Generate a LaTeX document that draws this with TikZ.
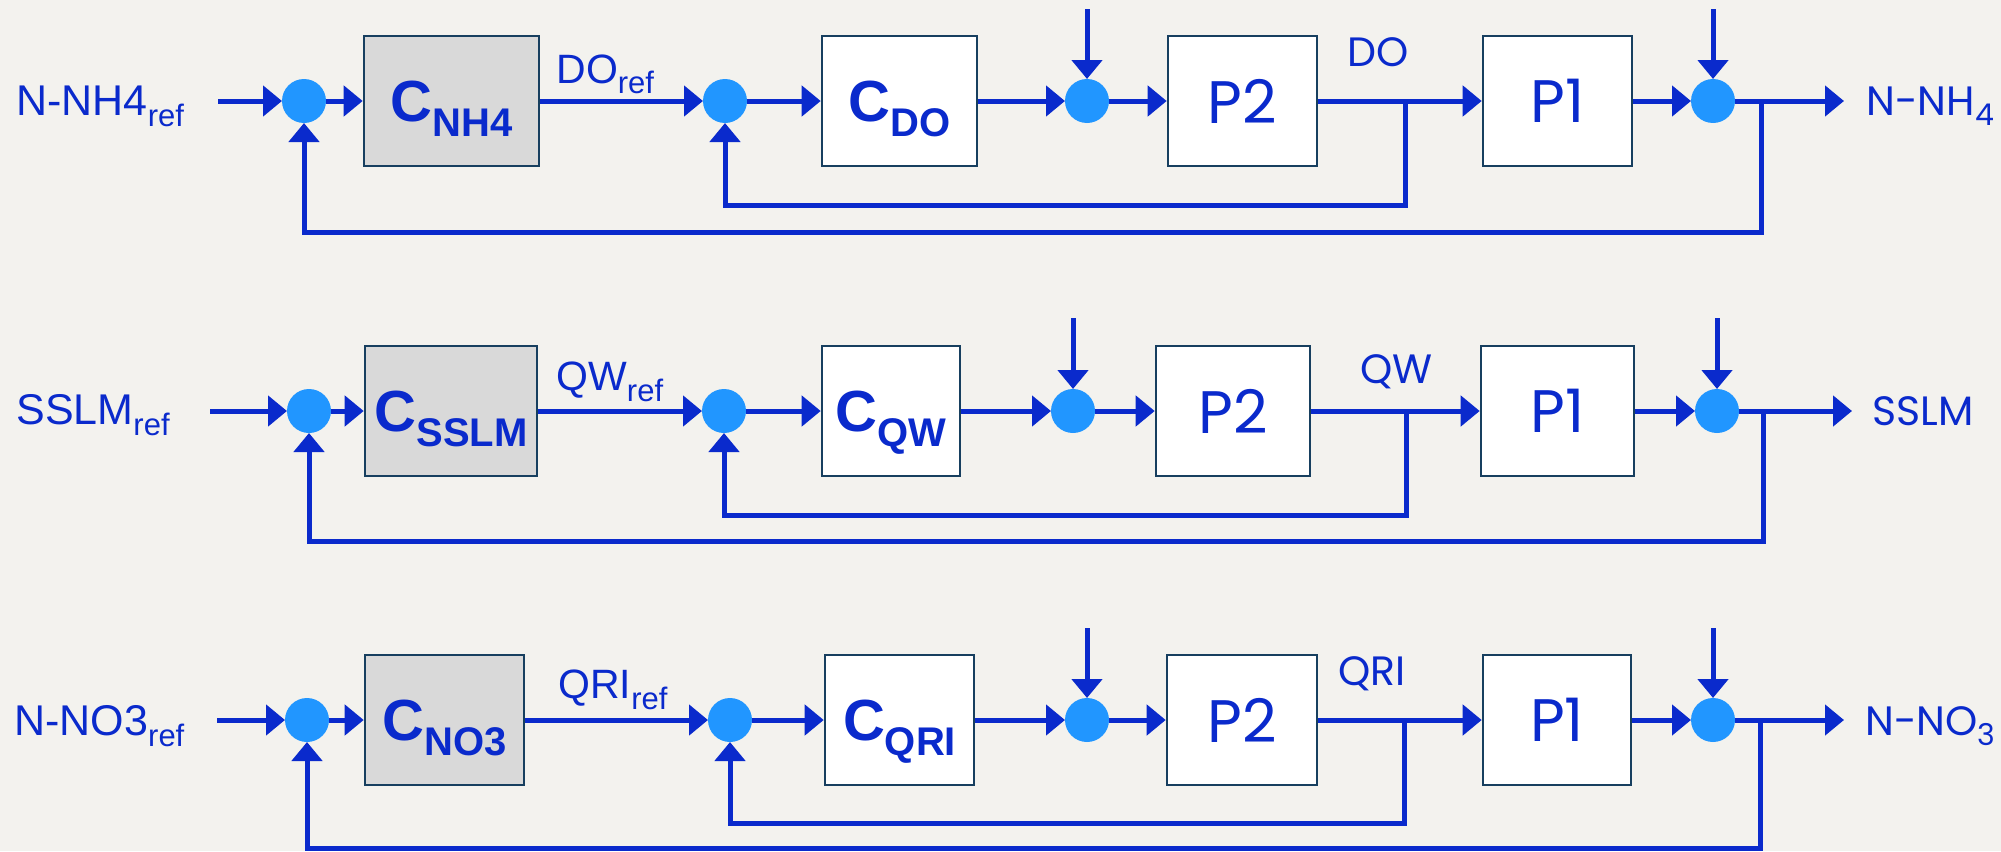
\documentclass[tikz,border=0pt]{standalone}
\usepackage{fontspec}
\setmainfont{Liberation Sans}
\newfontfamily\poppins{Poppins}
\usetikzlibrary{arrows.meta}
\definecolor{bgcol}{HTML}{F3F2EE}
\definecolor{linecol}{HTML}{0A2ACC}
\definecolor{sumcol}{HTML}{2196FF}
\definecolor{edgecol}{HTML}{173F5F}
\definecolor{ctrlcol}{HTML}{D9D9D9}
\newcommand{\csub}[1]{\raisebox{-7.5pt}{\fontsize{20}{22}\selectfont #1}}
\newcommand{\rsub}[1]{\raisebox{-5.5pt}{\fontsize{15.5}{17}\selectfont #1}}
\newcommand{\osub}[1]{\raisebox{-5pt}{\fontsize{15}{17}\selectfont #1}}
\tikzset{
  ctrl/.style={draw=edgecol,fill=ctrlcol,line width=1.3pt,minimum height=65pt,inner sep=0pt,text depth=0pt,text=linecol,font=\bfseries\fontsize{29}{30}\selectfont},
  plant/.style={ctrl,fill=white,font=\poppins\fontsize{30}{32}\selectfont},
  sumpt/.style={circle,fill=sumcol,minimum size=22pt,inner sep=0pt,outer sep=0pt},
  sig/.style={draw=linecol,line width=2.5pt,-{Triangle[length=9.5pt,width=15pt]}},
  reflbl/.style={anchor=base west,inner sep=0pt,text=linecol,font=\fontsize{21.5}{24}\selectfont},
  outlbl/.style={anchor=base west,inner sep=0pt,text=linecol,font=\poppins\fontsize{20.5}{24}\selectfont}
}
\begin{document}
\begin{tikzpicture}[x=0.5pt,y=-0.5pt]
	\fill[bgcol] (0,0) rectangle (2001,851);
	\useasboundingbox (0,0) rectangle (2001,851);

	\node[reflbl] (in1) at (16,115) {N-NH4\rsub{ref}};
	\coordinate (a1) at (218,101);
	\node[sumpt] (s11) at (304,101) {};
	\node[ctrl,minimum width=87.5pt] (c11) at (451.5,101) {C\csub{NH4}};
	\node[reflbl,font=\fontsize{20.5}{24}\selectfont] (r1) at (556,83) {DO\rsub{ref}};
	\node[sumpt] (s12) at (725,101) {};
	\node[ctrl,fill=white,minimum width=77.5pt] (c12) at (899.5,101) {C\csub{DO}};
	\coordinate (d13) at (1087,9);
	\node[sumpt] (s13) at (1087,101) {};
	\node[plant,minimum width=74.5pt] (p12) at (1242.5,101) {P2};
	\node[outlbl] (m1) at (1347,66) {DO};
	\coordinate (b11) at (1405,101);
	\node[plant,minimum width=74.5pt] (p11) at (1557.5,101) {P1};
	\coordinate (d14) at (1713,9);
	\node[sumpt] (s14) at (1713,101) {};
	\coordinate (b12) at (1761,101);
	\coordinate (e1) at (1844,101);
	\node[outlbl] (o1) at (1866,115) {N-NH\osub{4}};
	\draw[sig] (a1) -- (s11);
	\draw[sig] (s11) -- (c11);
	\draw[sig] (c11) -- (s12);
	\draw[sig] (s12) -- (c12);
	\draw[sig] (c12) -- (s13);
	\draw[sig] (d13) -- (s13);
	\draw[sig] (s13) -- (p12);
	\draw[sig] (p12) -- (p11);
	\draw[sig] (p11) -- (s14);
	\draw[sig] (d14) -- (s14);
	\draw[sig] (s14) -- (e1);
	\draw[sig] (b11) -- ++(0,104) -| (s12);
	\draw[sig] (b12) -- ++(0,131) -| (s11);

	\node[reflbl] (in2) at (16,424) {SSLM\rsub{ref}};
	\coordinate (a2) at (210,411);
	\node[sumpt] (s21) at (309,411) {};
	\node[ctrl,minimum width=86pt] (c21) at (451,411) {C\csub{SSLM}};
	\node[reflbl,font=\fontsize{20.5}{24}\selectfont] (r2) at (556,390) {QW\rsub{ref}};
	\node[sumpt] (s22) at (724,411) {};
	\node[ctrl,fill=white,minimum width=69pt] (c22) at (891,411) {C\csub{QW}};
	\coordinate (d23) at (1073,318);
	\node[sumpt] (s23) at (1073,411) {};
	\node[plant,minimum width=77pt] (p22) at (1233,411) {P2};
	\node[outlbl] (m2) at (1360,383) {QW};
	\coordinate (b21) at (1406,411);
	\node[plant,minimum width=76.5pt] (p21) at (1557.5,411) {P1};
	\coordinate (d24) at (1717,318);
	\node[sumpt] (s24) at (1717,411) {};
	\coordinate (b22) at (1763,411);
	\coordinate (e2) at (1852,411);
	\node[outlbl] (o2) at (1872,425) {SSLM};
	\draw[sig] (a2) -- (s21);
	\draw[sig] (s21) -- (c21);
	\draw[sig] (c21) -- (s22);
	\draw[sig] (s22) -- (c22);
	\draw[sig] (c22) -- (s23);
	\draw[sig] (d23) -- (s23);
	\draw[sig] (s23) -- (p22);
	\draw[sig] (p22) -- (p21);
	\draw[sig] (p21) -- (s24);
	\draw[sig] (d24) -- (s24);
	\draw[sig] (s24) -- (e2);
	\draw[sig] (b21) -- ++(0,104) -| (s22);
	\draw[sig] (b22) -- ++(0,130) -| (s21);

	\node[reflbl] (in3) at (14,735) {N-NO3\rsub{ref}};
	\coordinate (a3) at (217,720);
	\node[sumpt] (s31) at (307,720) {};
	\node[ctrl,minimum width=79.5pt] (c31) at (444.5,720) {C\csub{NO3}};
	\node[reflbl,font=\fontsize{20.5}{24}\selectfont] (r3) at (558,698) {QRI\rsub{ref}};
	\node[sumpt] (s32) at (730,720) {};
	\node[ctrl,fill=white,minimum width=74.5pt] (c32) at (899.5,720) {C\csub{QRI}};
	\coordinate (d33) at (1087,628);
	\node[sumpt] (s33) at (1087,720) {};
	\node[plant,minimum width=75pt] (p32) at (1242,720) {P2};
	\node[outlbl] (m3) at (1338,685) {QRI};
	\coordinate (b31) at (1404,720);
	\node[plant,minimum width=74pt] (p31) at (1557,720) {P1};
	\coordinate (d34) at (1713,628);
	\node[sumpt] (s34) at (1713,720) {};
	\coordinate (b32) at (1760,720);
	\coordinate (e3) at (1844,720);
	\node[outlbl] (o3) at (1865,735) {N-NO\osub{3}};
	\draw[sig] (a3) -- (s31);
	\draw[sig] (s31) -- (c31);
	\draw[sig] (c31) -- (s32);
	\draw[sig] (s32) -- (c32);
	\draw[sig] (c32) -- (s33);
	\draw[sig] (d33) -- (s33);
	\draw[sig] (s33) -- (p32);
	\draw[sig] (p32) -- (p31);
	\draw[sig] (p31) -- (s34);
	\draw[sig] (d34) -- (s34);
	\draw[sig] (s34) -- (e3);
	\draw[sig] (b31) -- ++(0,103) -| (s32);
	\draw[sig] (b32) -- ++(0,128) -| (s31);
\end{tikzpicture}
\end{document}
